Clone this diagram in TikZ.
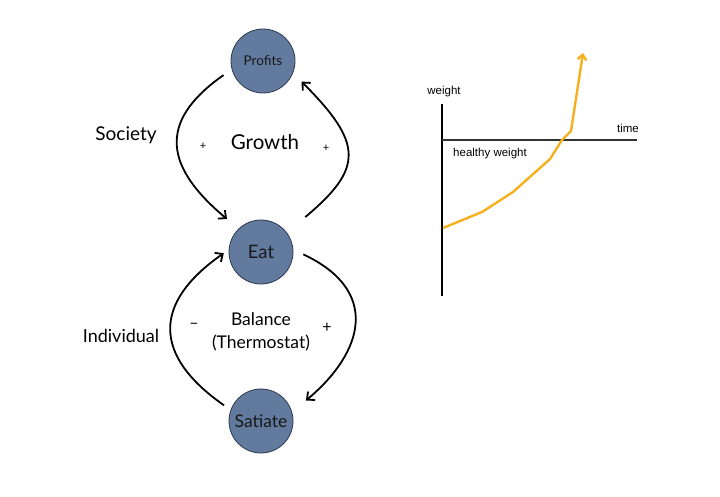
\documentclass[tikz,border=0pt]{standalone}
\usepackage{fontspec}
\setmainfont{Lato}
\newfontfamily\chartfont{Liberation Sans}
\usetikzlibrary{arrows.meta}
\definecolor{slate}{RGB}{98,122,158}
\definecolor{slateline}{RGB}{45,58,80}
\definecolor{curveorange}{RGB}{245,176,30}
\tikzset{
  cnode/.style={circle, draw=slateline, line width=0.8pt, fill=slate, minimum size=64pt, inner sep=0pt, text=black!90},
  feedback/.style={line width=1.8pt, -{Straight Barb[length=6pt,width=11pt]}},
  sign/.style={font=\fontsize{11}{13}\selectfont},
  chartlabel/.style={font=\chartfont\fontsize{11.5}{13}\selectfont, inner sep=1pt},
}
\begin{document}
\begin{tikzpicture}[x=1pt,y=1pt]
  \useasboundingbox (0,0) rectangle (720,496);
  % loop nodes
  \node[cnode, font=\fontsize{13.5}{15}\selectfont] (prof) at (263,435) {Profits};
  \node[cnode, font=\fontsize{18.5}{20}\selectfont] (eat) at (261,244) {Eat};
  \node[cnode, font=\fontsize{17.5}{19}\selectfont] (sat) at (261,75) {Satiate};
  % growth loop
  \draw[feedback, shorten <=10pt, shorten >=15pt] (prof.195) to[out=215, in=140, looseness=1.5] (eat.134);
  \draw[feedback, shorten <=24pt, shorten >=12pt] (eat.37) to[out=40, in=-45, looseness=1.6] (prof.-22);
  % balance loop
  \draw[feedback, shorten <=8pt, shorten >=6pt] (sat.160) to[out=145, in=215, looseness=1.5] (eat.176);
  \draw[feedback, shorten <=11pt, shorten >=18pt] (eat.4) to[out=-25, in=40, looseness=1.5] (sat.16);
  % labels
  \node[font=\fontsize{19}{21}\selectfont] (society) at (126,361) {Society};
  \node[font=\fontsize{20.5}{22}\selectfont] (growth) at (265,354) {Growth};
  \node[sign, font=\fontsize{11}{12}\selectfont] (gplusl) at (203,350) {+};
  \node[sign, font=\fontsize{11}{12}\selectfont] (gplusr) at (326,348) {+};
  \node[font=\fontsize{18}{20}\selectfont] (indiv) at (121,160) {Individual};
  \node[font=\fontsize{17.5}{23}\selectfont, align=center] (balance) at (261,164) {Balance\\(Thermostat)};
  \node[sign, font=\fontsize{16}{17}\selectfont] (bminus) at (194,170) {–};
  \node[sign, font=\fontsize{16}{17}\selectfont] (bplus) at (327,168) {+};
  % weight chart
  \coordinate (origin) at (442,200);
  \draw[line width=2pt] (origin) -- (442,392);
  \draw[line width=1.5pt, black!80] (442,356) -- (637,356);
  \node[chartlabel] (wlabel) at (444,404) {weight};
  \node[chartlabel] (tlabel) at (628,368) {time};
  \node[chartlabel] (hlabel) at (490,342) {healthy weight};
  \draw[curveorange, line width=2.4pt, line join=round, -{Straight Barb[length=5pt,width=9pt]}]
    (443,268) -- (482,284) -- (513,304) -- (550,337) -- (562,356) -- (571,365) -- (583,443);
\end{tikzpicture}
\end{document}
